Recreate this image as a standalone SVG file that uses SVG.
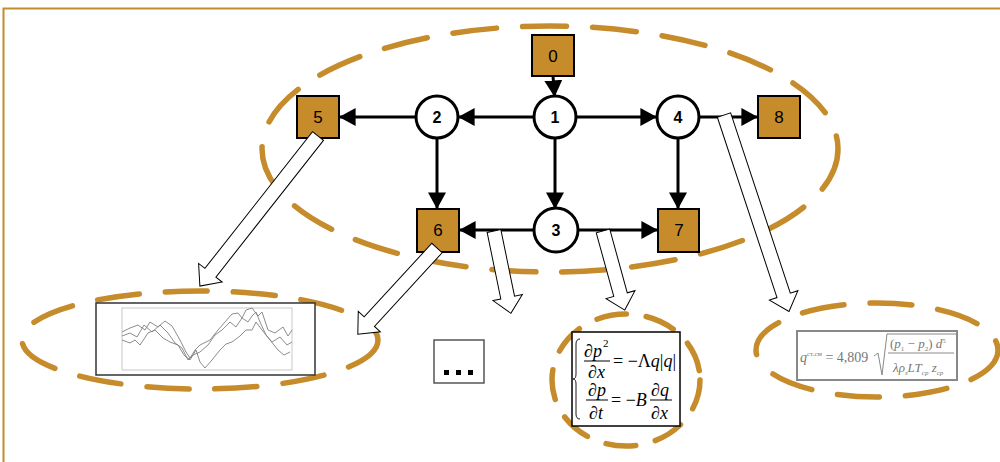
<svg xmlns="http://www.w3.org/2000/svg" width="1000" height="462" viewBox="0 0 1000 462">
<defs>
<style>
.dash{fill:none;stroke:#C68B2B;stroke-width:5.5;stroke-linecap:round}
.box{fill:#C68B2B;stroke:#000;stroke-width:2}
.circ{fill:#fff;stroke:#000;stroke-width:3}
.edge{fill:none;stroke:#000;stroke-width:3;marker-end:url(#ah)}
.fat{fill:#fff;stroke:#000;stroke-width:1}
.bl{font-family:"Liberation Sans",Arial,sans-serif;font-size:17px;text-anchor:middle;fill:#000}
.cl{font-family:"Liberation Sans",Arial,sans-serif;font-size:16px;font-weight:bold;text-anchor:middle;fill:#000}
.eq{font-family:"Liberation Serif","Times New Roman",serif;font-size:18px;fill:#000}
.eqs{font-family:"Liberation Serif","Times New Roman",serif;font-size:11px;fill:#000}
.fm{font-family:"Liberation Serif","Times New Roman",serif;fill:#777}
.plot{fill:none;stroke:#808080;stroke-width:0.9}
</style>
<marker id="ah" markerWidth="6" markerHeight="6" refX="5.2" refY="3" orient="auto" markerUnits="strokeWidth">
<path d="M0,0 L5.5,3 L0,6 Z" fill="#000"/>
</marker>
</defs>
<rect width="1000" height="462" fill="#fff"/>
<path d="M3.5,462 V8.5 H1000" fill="none" stroke="#C68B2B" stroke-width="2"/>

<g id="ellipses">
<ellipse cx="550" cy="149" rx="288" ry="123" class="dash" stroke-dasharray="44 26"/>
<ellipse cx="200" cy="340" rx="178" ry="49" class="dash" stroke-dasharray="42 26"/>
<ellipse cx="626" cy="380" rx="74" ry="66" class="dash" stroke-dasharray="30 20"/>
<ellipse cx="877" cy="350" rx="121" ry="47" class="dash" stroke-dasharray="42 26"/>
</g>

<g id="connectors">
<line x1="553" y1="76" x2="554.5" y2="96" class="edge"/>
<line x1="534" y1="117" x2="459" y2="117" class="edge"/>
<line x1="416" y1="117" x2="340" y2="117" class="edge"/>
<line x1="576" y1="117" x2="656" y2="117" class="edge"/>
<line x1="699" y1="117" x2="757" y2="117" class="edge"/>
<line x1="437" y1="138" x2="437" y2="208" class="edge"/>
<line x1="555" y1="138" x2="555" y2="208" class="edge"/>
<line x1="678" y1="138" x2="678" y2="208" class="edge"/>
<line x1="534" y1="230" x2="460" y2="230" class="edge"/>
<line x1="578" y1="230" x2="657" y2="230" class="edge"/>
</g>

<g id="node0"><rect x="532" y="35" width="42" height="41" class="box"/><text x="553" y="62" class="bl">0</text></g>
<g id="node1"><circle cx="555" cy="117" r="21" class="circ"/><text x="555" y="123" class="cl">1</text></g>
<g id="node2"><circle cx="437" cy="117" r="21" class="circ"/><text x="437" y="123" class="cl">2</text></g>
<g id="node3"><circle cx="556" cy="230" r="22" class="circ"/><text x="556" y="236" class="cl">3</text></g>
<g id="node4"><circle cx="678" cy="117" r="21" class="circ"/><text x="678" y="123" class="cl">4</text></g>
<g id="node5"><rect x="297" y="96" width="42" height="42" class="box"/><text x="318" y="123" class="bl">5</text></g>
<g id="node6"><rect x="417" y="209" width="42" height="43" class="box"/><text x="438" y="236" class="bl">6</text></g>
<g id="node7"><rect x="658" y="209" width="41" height="43" class="box"/><text x="679" y="236" class="bl">7</text></g>
<g id="node8"><rect x="758" y="96" width="42" height="42" class="box"/><text x="779" y="123" class="bl">8</text></g>

<g id="chart">
<rect x="96" y="303" width="219" height="72" fill="#fff" stroke="#333" stroke-width="1.5"/>
<rect x="122" y="308" width="170" height="62" fill="#fff" stroke="#bbb" stroke-width="0.8"/>
<polyline class="plot" points="122,332 130,328 138,325 145,330 150,322 158,327 165,321 172,326 180,340 186,352 190,358 195,350 200,345 210,340 218,330 225,322 232,314 238,313 242,318 246,310 252,308 258,316 262,312 268,330 275,333 283,327 288,336 292,330"/>
<polyline class="plot" points="122,336 130,333 137,337 144,325 152,332 160,325 168,333 175,343 182,348 188,360 193,355 200,352 208,345 215,335 222,330 230,322 236,327 242,318 248,322 252,316 256,312 260,322 266,335 272,342 280,337 287,345 292,342"/>
<polyline class="plot" points="122,340 130,343 135,340 140,345 148,333 155,330 163,338 170,342 178,345 184,355 190,360 196,350 200,362 205,368 212,360 220,350 226,344 232,342 240,336 246,330 252,330 256,322 262,330 270,340 278,350 284,355 290,352"/>
</g>

<g id="ellipsis">
<rect x="434" y="340" width="50" height="43" fill="#fff" stroke="#555" stroke-width="1.5"/>
<rect x="444" y="370" width="5" height="5" fill="#000"/>
<rect x="456" y="370" width="5" height="5" fill="#000"/>
<rect x="468" y="370" width="5" height="5" fill="#000"/>
</g>

<g id="equations">
<rect x="572" y="332" width="108" height="94" fill="#fff" stroke="#000" stroke-width="1.5"/>
<path d="M580,339 Q576,339 576,344 L576,374 Q576,379 573,379 Q576,379 576,384 L576,414 Q576,419 580,419" fill="none" stroke="#000" stroke-width="0.9"/>
<text x="584" y="357" class="eq">∂<tspan font-style="italic">p</tspan></text>
<text x="603" y="347" class="eqs">2</text>
<line x1="584" y1="361" x2="610" y2="361" stroke="#000" stroke-width="1"/>
<text x="588" y="378" class="eq">∂<tspan font-style="italic">x</tspan></text>
<text x="613" y="367" class="eq">= −Λ<tspan font-style="italic">q</tspan>|<tspan font-style="italic">q</tspan>|</text>
<text x="588" y="396" class="eq">∂<tspan font-style="italic">p</tspan></text>
<line x1="586" y1="400" x2="608" y2="400" stroke="#000" stroke-width="1"/>
<text x="589" y="419" class="eq">∂<tspan font-style="italic">t</tspan></text>
<text x="611" y="406" class="eq">= −<tspan font-style="italic">B</tspan></text>
<text x="651" y="396" class="eq">∂<tspan font-style="italic">q</tspan></text>
<line x1="650" y1="400" x2="672" y2="400" stroke="#000" stroke-width="1"/>
<text x="651" y="419" class="eq">∂<tspan font-style="italic">x</tspan></text>
</g>

<g id="formula">
<rect x="797" y="331" width="160" height="49" fill="#fff" stroke="#888" stroke-width="2"/>
<text x="800" y="362" class="fm" font-size="14"><tspan font-style="italic">q</tspan><tspan font-size="7" dy="-6">ст.см</tspan><tspan dy="6"> = 4,809</tspan></text>
<path d="M874,356 L878,353 L882,375 L887,334 L956,334" fill="none" stroke="#888" stroke-width="1"/>
<text x="890" y="348" class="fm" font-size="13">(<tspan font-style="italic">p</tspan><tspan font-size="7" dy="3">1</tspan><tspan dy="-3"> − </tspan><tspan font-style="italic">p</tspan><tspan font-size="7" dy="3">2</tspan><tspan dy="-3">)</tspan><tspan font-style="italic"> d</tspan><tspan font-size="7" dy="-5">5</tspan></text>
<line x1="888" y1="353" x2="954" y2="353" stroke="#888" stroke-width="1"/>
<text x="893" y="372" class="fm" font-size="13" font-style="italic">λρ<tspan font-size="7" dy="3">s</tspan><tspan dy="-3">LT</tspan><tspan font-size="7" dy="3">ср</tspan><tspan dy="-3"> z</tspan><tspan font-size="7" dy="3">ср</tspan></text>
</g>

<g id="block-arrows">
<polygon class="fat" transform="translate(318,136) rotate(128.2)" points="0,-7 174,-7 174,-15 191,0 174,15 174,7 0,7"/>
<polygon class="fat" transform="translate(437,248) rotate(132.6)" points="0,-7 100,-7 100,-15 117,0 100,15 100,7 0,7"/>
<polygon class="fat" transform="translate(494,231) rotate(78.4)" points="0,-7 68,-7 68,-15 84,0 68,15 68,7 0,7"/>
<polygon class="fat" transform="translate(603,231) rotate(74.6)" points="0,-7 66,-7 66,-15 82,0 66,15 66,7 0,7"/>
<polygon class="fat" transform="translate(724,115) rotate(71.7)" points="0,-7 190,-7 190,-15 207,0 190,15 190,7 0,7"/>
</g>
</svg>
